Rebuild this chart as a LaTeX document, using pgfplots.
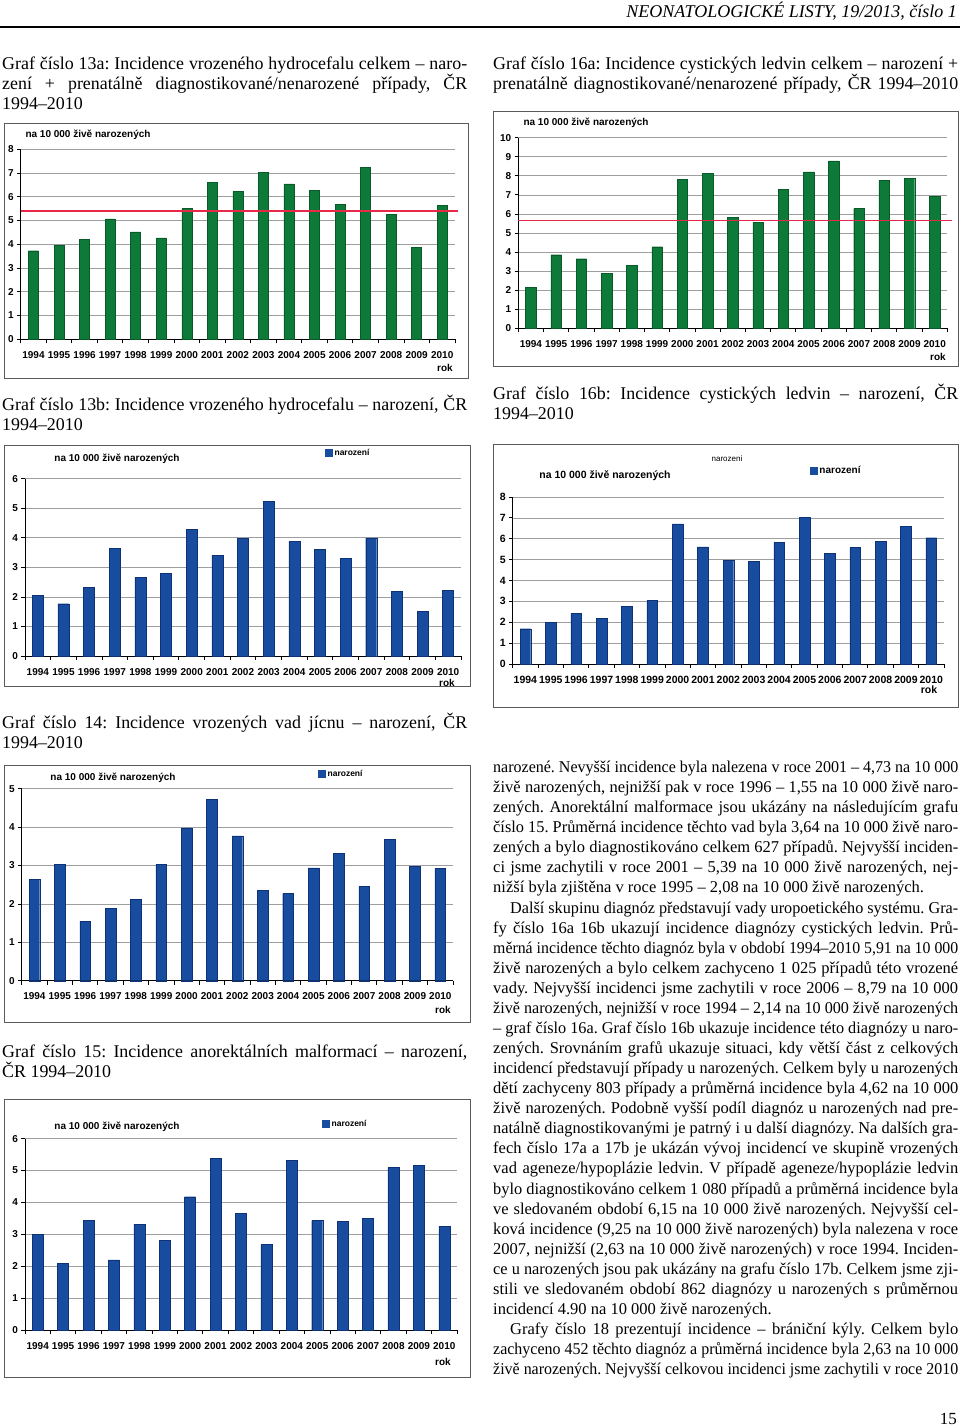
\documentclass[border=0pt]{standalone}
\usepackage{fontspec}
\setmainfont{Liberation Serif}
\newfontfamily\chartfont{Liberation Sans}
\usepackage{graphicx}
\usepackage{pgfplots}
\pgfplotsset{compat=1.18}
\frenchspacing
\definecolor{bargreen}{RGB}{14,122,58}
\definecolor{bargreenedge}{RGB}{8,90,40}
\definecolor{barblue}{RGB}{24,76,158}
\definecolor{barblueedge}{RGB}{14,50,120}
\definecolor{avgred}{RGB}{232,40,72}
\definecolor{framegray}{RGB}{90,90,90}
\newcommand\bodyfont{\fontsize{16.5}{20}\selectfont}
\newcommand\titlefont{\fontsize{17.9}{20}\selectfont}
\newcommand\cf[1]{\chartfont\bfseries\fontsize{#1}{#1}\selectfont}
\newsavebox\lbox
\newcommand\fitline[2]{\sbox\lbox{#2}\ifdim\wd\lbox>#1\relax\resizebox{#1}{\height}{\usebox\lbox}\else\makebox[#1][s]{#2}\fi}
\newcommand\J[3]{\node[anchor=base west,inner sep=0pt,font=\bodyfont] at (#1,#2) {\fitline{465pt}{#3}};}
\newcommand\JW[4]{\node[anchor=base west,inner sep=0pt,font=\bodyfont] at (#1,#2) {\fitline{#3pt}{#4}};}
\newcommand\LL[3]{\node[anchor=base west,inner sep=0pt,font=\bodyfont] at (#1,#2) {#3};}
\newcommand\TJ[3]{\node[anchor=base west,inner sep=0pt,font=\titlefont] at (#1,#2) {\fitline{465pt}{#3}};}
\newcommand\TL[3]{\node[anchor=base west,inner sep=0pt,font=\titlefont] at (#1,#2) {#3};}

\pgfplotsset{
  yearchart/.style={
    scale only axis, anchor=south west,
    xmin=-0.5, xmax=16.5, ymin=0,
    axis lines*=left,
    axis line style={black, line width=0.8pt},
    xtick={0,...,16},
    xticklabels={1994,1995,1996,1997,1998,1999,2000,2001,2002,2003,2004,2005,2006,2007,2008,2009,2010},
    minor xtick={-0.5,0.5,...,16.5},
    every major x tick/.style={draw=none},
    major tick length=3.5pt, minor tick length=4pt,
    tick align=outside,
    every tick/.style={black, line width=0.8pt},
    ytick distance=1,
    ymajorgrids,
    grid style={gray!75, line width=0.7pt},
    ticklabel style={font=\cf{10}},
    xticklabel style={yshift=-5pt},
    /pgf/number format/assume math mode=true,
    clip=false,
    legend image code/.code={\fill[barblue] (0pt,-3.5pt) rectangle (7pt,3.5pt);},
    legend style={draw=none, fill=none, inner sep=0pt, font=\cf{8.5}, anchor=west, legend cell align=left},
  },
  greenbars/.style={ybar, bar width=10pt, fill=bargreen, draw=bargreenedge, line width=0.4pt},
  bluebars/.style={ybar, bar width=11pt, fill=barblue, draw=barblueedge, line width=0.4pt},
}

\begin{document}
\begin{tikzpicture}[x=1pt,y=-1pt]
\useasboundingbox[fill=white] (0,0) rectangle (960,1426);

% header
\node[anchor=base east,inner sep=0pt,font=\fontsize{18}{20}\selectfont\itshape] at (957,18) {NEONATOLOGICKÉ LISTY, 19/2013, číslo 1};
\draw[line width=2.2pt] (0,27) -- (960,27);

% frames
\draw[framegray, line width=1pt] (4,124) rectangle (468,378);
\draw[framegray, line width=1pt] (493,112) rectangle (958,366);
\draw[framegray, line width=1pt] (4,445) rectangle (470,686);
\draw[framegray, line width=1pt] (493,444) rectangle (958,707);
\draw[framegray, line width=1pt] (4,765) rectangle (470,1022);
\draw[framegray, line width=1pt] (4,1099) rectangle (470,1377);

% titles left
\TJ{2}{69.5}{Graf číslo 13a: Incidence vrozeného hydrocefalu celkem – naro-}
\TJ{2}{89.5}{zení + prenatálně diagnostikované/nenarozené případy, ČR}
\TL{2}{109.5}{1994–2010}
\TJ{2}{410.5}{Graf číslo 13b: Incidence vrozeného hydrocefalu – narození, ČR}
\TL{2}{430.5}{1994–2010}
\TJ{2}{728.5}{Graf číslo 14: Incidence vrozených vad jícnu – narození, ČR}
\TL{2}{748.5}{1994–2010}
\TJ{2}{1057.5}{Graf číslo 15: Incidence anorektálních malformací – narození,}
\TL{2}{1077.5}{ČR 1994–2010}
% titles right
\TJ{493}{69.5}{Graf číslo 16a: Incidence cystických ledvin celkem – narození +}
\TJ{493}{89.5}{prenatálně diagnostikované/nenarozené případy, ČR 1994–2010}
\TJ{493}{399.5}{Graf číslo 16b: Incidence cystických ledvin – narození, ČR}
\TL{493}{419.5}{1994–2010}

% ---------- Chart 13a ----------
\begin{axis}[yearchart, at={(20.7pt,-339.3pt)}, width=434.3pt, height=190pt, ymax=8]
\addplot[greenbars] coordinates {(0,3.73) (1,3.96) (2,4.20) (3,5.07) (4,4.52) (5,4.27) (6,5.50) (7,6.60) (8,6.23) (9,7.03) (10,6.54) (11,6.26) (12,5.67) (13,7.24) (14,5.26) (15,3.87) (16,5.63)};
\addplot[avgred, line width=1.2pt] coordinates {(-0.5,5.4) (16.6,5.4)};
\end{axis}
\node[font=\cf{10},anchor=west] at (22,135) {na 10 000 živě narozených};
\node[font=\cf{10}] at (445,368) {rok};

% ---------- Chart 16a ----------
\begin{axis}[yearchart, at={(518.3pt,-328.3pt)}, width=429pt, height=190.6pt, ymax=10]
\addplot[greenbars, bar width=10.5pt] coordinates {(0,2.14) (1,3.86) (2,3.65) (3,2.87) (4,3.31) (5,4.28) (6,7.83) (7,8.13) (8,5.82) (9,5.57) (10,7.29) (11,8.21) (12,8.79) (13,6.28) (14,7.78) (15,7.87) (16,6.92)};
\addplot[avgred, line width=1.2pt] coordinates {(-0.5,5.65) (16.7,5.65)};
\end{axis}
\node[font=\cf{10},anchor=west] at (520,123) {na 10 000 živě narozených};
\node[font=\cf{10}] at (938,357) {rok};

% ---------- Chart 13b ----------
\begin{axis}[yearchart, at={(25pt,-656pt)}, width=436pt, height=177.3pt, ymax=6,
  legend style={at={(0.688,1.145)}}]
\addplot[bluebars] coordinates {(0,2.06) (1,1.77) (2,2.33) (3,3.65) (4,2.66) (5,2.80) (6,4.29) (7,3.41) (8,3.98) (9,5.23) (10,3.89) (11,3.62) (12,3.30) (13,4.00) (14,2.18) (15,1.52) (16,2.22)};
\addlegendentry{narození}
\end{axis}
\node[font=\cf{10}] at (117,459) {na 10 000 živě narozených};
\node[font=\cf{10}] at (447,683) {rok};

% ---------- Chart 16b ----------
\begin{axis}[yearchart, at={(512.7pt,-664pt)}, width=431.3pt, height=167pt, ymax=8,
  ticklabel style={font=\cf{10.5}},
  legend style={at={(0.689,1.156)}, font=\cf{10}}]
\addplot[bluebars, bar width=10.7pt] coordinates {(0,1.69) (1,1.98) (2,2.43) (3,2.20) (4,2.76) (5,3.04) (6,6.71) (7,5.61) (8,4.97) (9,4.92) (10,5.83) (11,7.03) (12,5.30) (13,5.58) (14,5.86) (15,6.60) (16,6.05)};
\addlegendentry{narození}
\end{axis}
\node[font=\chartfont\fontsize{8}{8}\selectfont] at (727,459) {narozeni};
\node[font=\cf{10.5}] at (605,476) {na 10 000 živě narozených};
\node[font=\cf{10.5}] at (929,690) {rok};

% ---------- Chart 14 ----------
\begin{axis}[yearchart, at={(21.7pt,-980.7pt)}, width=431.3pt, height=192pt, ymax=5,
  legend style={at={(0.687,1.077)}}]
\addplot[bluebars, bar width=10.7pt] coordinates {(0,2.64) (1,3.03) (2,1.55) (3,1.89) (4,2.11) (5,3.03) (6,3.98) (7,4.73) (8,3.77) (9,2.36) (10,2.27) (11,2.94) (12,3.31) (13,2.46) (14,3.69) (15,2.97) (16,2.92)};
\addlegendentry{narození}
\end{axis}
\node[font=\cf{10}] at (113,778) {na 10 000 živě narozených};
\node[font=\cf{10}] at (443,1010) {rok};

% ---------- Chart 15 ----------
\begin{axis}[yearchart, at={(25pt,-1330pt)}, width=432pt, height=191.3pt, ymax=6,
  legend style={at={(0.6875,1.077)}}]
\addplot[bluebars] coordinates {(0,3.00) (1,2.08) (2,3.44) (3,2.20) (4,3.32) (5,2.81) (6,4.18) (7,5.39) (8,3.66) (9,2.68) (10,5.33) (11,3.43) (12,3.41) (13,3.51) (14,5.10) (15,5.16) (16,3.25)};
\addlegendentry{narození}
\end{axis}
\node[font=\cf{10}] at (117,1127) {na 10 000 živě narozených};
\node[font=\cf{10}] at (443,1362) {rok};

% ---------- body text ----------
\J{493}{772.5}{narozené. Nevyšší incidence byla nalezena v roce 2001 – 4,73 na 10 000}
\J{493}{792.6}{živě narozených, nejnižší pak v roce 1996 – 1,55 na 10 000 živě naro-}
\J{493}{812.6}{zených. Anorektální malformace jsou ukázány na následujícím grafu}
\J{493}{832.7}{číslo 15. Průměrná incidence těchto vad byla 3,64 na 10 000 živě naro-}
\J{493}{852.8}{zených a bylo diagnostikováno celkem 627 případů. Nejvyšší inciden-}
\J{493}{872.9}{ci jsme zachytili v roce 2001 – 5,39 na 10 000 živě narozených, nej-}
\LL{493}{892.9}{nižší byla zjištěna v roce 1995 – 2,08 na 10 000 živě narozených.}
\JW{510}{913.0}{448}{Další skupinu diagnóz představují vady uropoetického systému. Gra-}
\J{493}{933.1}{fy číslo 16a 16b ukazují incidence diagnózy cystických ledvin. Prů-}
\J{493}{953.1}{měrná incidence těchto diagnóz byla v období 1994–2010 5,91 na 10 000}
\J{493}{973.2}{živě narozených a bylo celkem zachyceno 1 025 případů této vrozené}
\J{493}{993.3}{vady. Nejvyšší incidenci jsme zachytili v roce 2006 – 8,79 na 10 000}
\J{493}{1013.3}{živě narozených, nejnižší v roce 1994 – 2,14 na 10 000 živě narozených}
\J{493}{1033.4}{– graf číslo 16a. Graf číslo 16b ukazuje incidence této diagnózy u naro-}
\J{493}{1053.5}{zených. Srovnáním grafů ukazuje situaci, kdy větší část z celkových}
\J{493}{1073.6}{incidencí představují případy u narozených. Celkem byly u narozených}
\J{493}{1093.6}{dětí zachyceny 803 případy a průměrná incidence byla 4,62 na 10 000}
\J{493}{1113.7}{živě narozených. Podobně vyšší podíl diagnóz u narozených nad pre-}
\J{493}{1133.8}{natálně diagnostikovanými je patrný i u další diagnózy. Na dalších gra-}
\J{493}{1153.8}{fech číslo 17a a 17b je ukázán vývoj incidencí ve skupině vrozených}
\J{493}{1173.9}{vad ageneze/hypoplázie ledvin. V případě ageneze/hypoplázie ledvin}
\J{493}{1194.0}{bylo diagnostikováno celkem 1 080 případů a průměrná incidence byla}
\J{493}{1214.0}{ve sledovaném období 6,15 na 10 000 živě narozených. Nejvyšší cel-}
\J{493}{1234.1}{ková incidence (9,25 na 10 000 živě narozených) byla nalezena v roce}
\J{493}{1254.2}{2007, nejnižší (2,63 na 10 000 živě narozených) v roce 1994. Inciden-}
\J{493}{1274.3}{ce u narozených jsou pak ukázány na grafu číslo 17b. Celkem jsme zji-}
\J{493}{1294.3}{stili ve sledovaném období 862 diagnózy u narozených s průměrnou}
\LL{493}{1314.4}{incidencí 4.90 na 10 000 živě narozených.}
\JW{510}{1334.5}{448}{Grafy číslo 18 prezentují incidence – brániční kýly. Celkem bylo}
\J{493}{1354.5}{zachyceno 452 těchto diagnóz a průměrná incidence byla 2,63 na 10 000}
\J{493}{1374.6}{živě narozených. Nejvyšší celkovou incidenci jsme zachytili v roce 2010}

% page number
\node[anchor=base east,inner sep=0pt,font=\fontsize{17}{20}\selectfont] at (957,1424) {15};
\end{tikzpicture}
\end{document}
